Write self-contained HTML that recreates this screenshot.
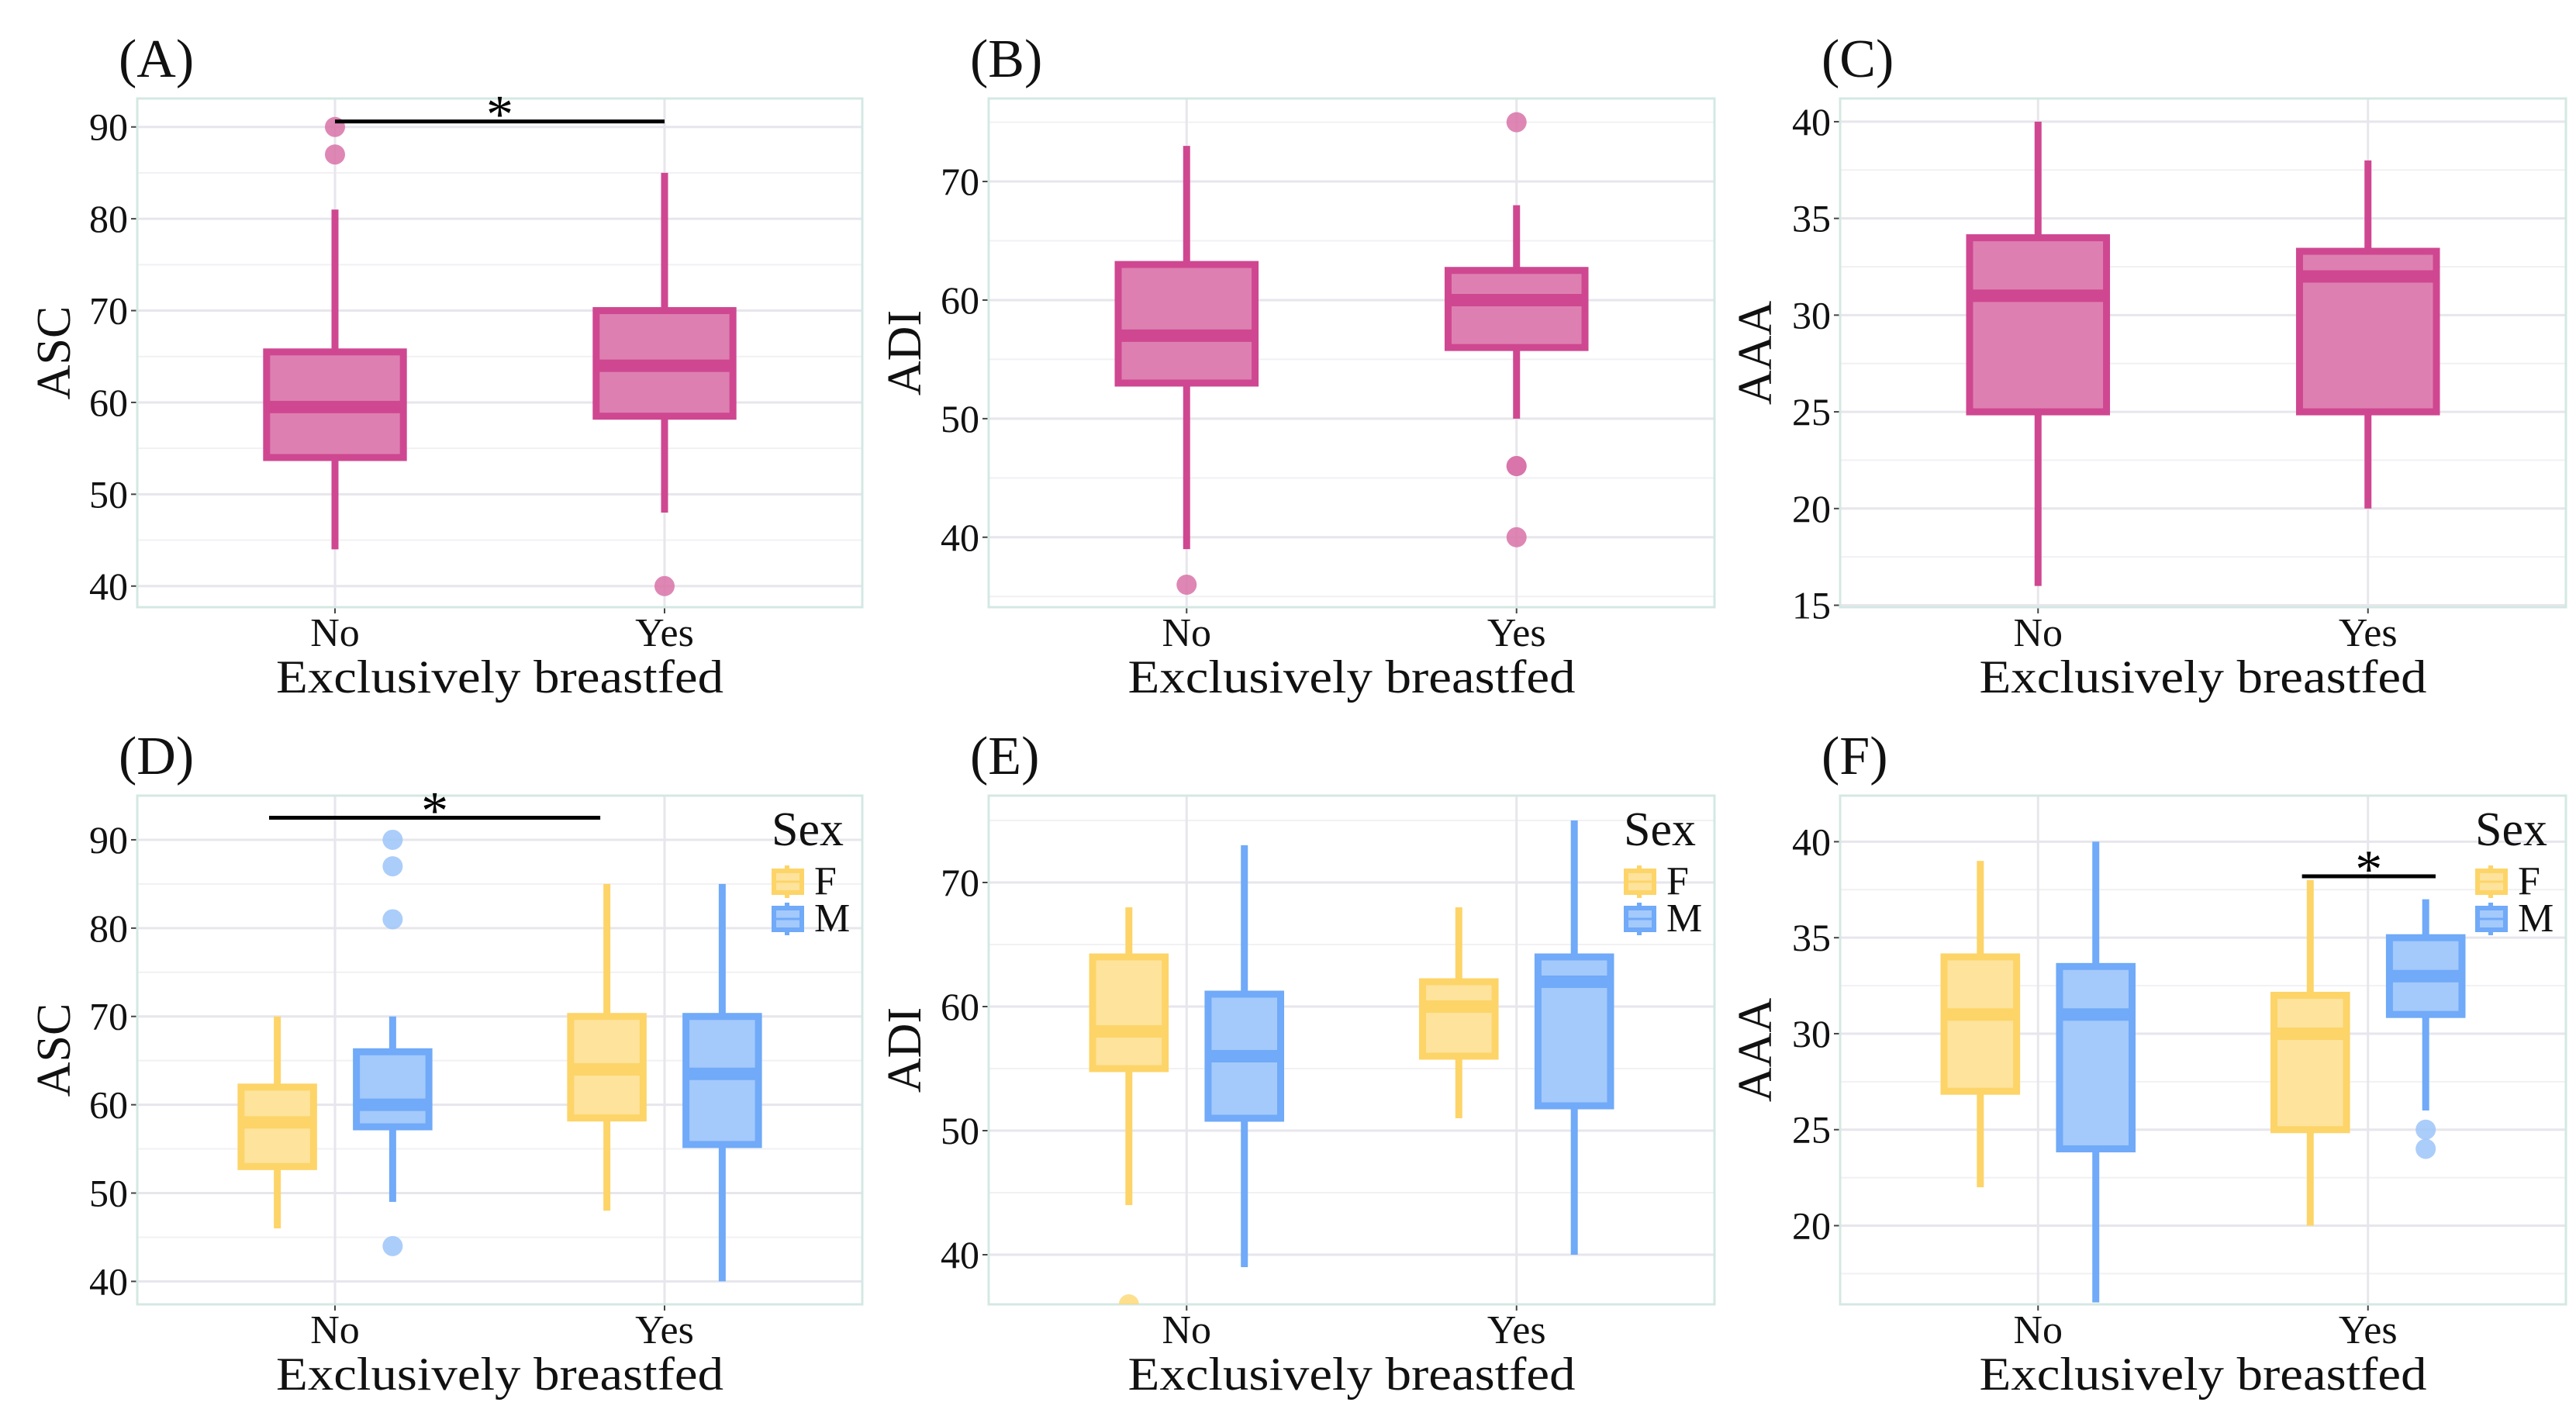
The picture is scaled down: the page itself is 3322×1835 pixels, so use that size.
<!DOCTYPE html>
<html><head><meta charset="utf-8"><style>
html,body{margin:0;padding:0;background:#fff;}
svg, svg text{font-family:"Liberation Serif","Times New Roman",Times,serif;}
svg{display:block;}
</style></head><body>
<svg id="fig" width="3322" height="1835" viewBox="0 0 3322 1835" font-family="Liberation Serif, Times New Roman, serif"></svg>
<script>
// ---- data ----
const categories = ["No","Yes"];
const groups = ["F","M"];
// Panel A (ASC) : [lowWhisker, q1, median, q3, highWhisker]
const ascAll = [[44,54,59.5,65.5,81],[48,58.5,64,70,85]];
const ascAllOut = [[87,90],[40]];
// Panel B (ADI)
const adiAll = [[39,53,57,63,73],[50,56,60,62.5,68]];
const adiAllOut = [[36],[75,46,46,40]];
// Panel C (AAA)
const aaaAll = [[16,25,31,34,40],[20,25,32,33.3,38]];
const aaaAllOut = [[],[]];
// Panel D (ASC by sex) [category][group]
const ascSex = [[[46,53,58,62,70],[49,57.5,60,66,70]],[[48,58.5,64,70,85],[40,55.5,63.5,70,85]]];
const ascSexOut = [[[],[90,87,81,44]],[[],[]]];
// Panel E (ADI by sex)
const adiSex = [[[44,55,58,64,68],[39,51,56,61,73]],[[51,56,60,62,68],[40,52,62,64,75]]];
const adiSexOut = [[[36],[]],[[],[]]];
// Panel F (AAA by sex)
const aaaSex = [[[22,27,31,34,39],[16,24,31,33.5,40]],[[20,25,30,32,38],[26,31,33,35,37]]];
const aaaSexOut = [[[],[]],[[],[25,24]]];
// ticks
const ticksASC = [40,50,60,70,80,90];
const ticksADI = [40,50,60,70];
const ticksAAA = [15,20,25,30,35,40];

const NS = "http://www.w3.org/2000/svg";
const svg = document.getElementById("fig");
const FF = "Liberation Serif, Times New Roman, serif";
function mk(tag, attrs, parent, text){
  const e = document.createElementNS(NS, tag);
  for (const k in attrs) e.setAttribute(k, attrs[k]);
  if (tag === "text") e.setAttribute("font-family", FF);
  if (text !== undefined) e.textContent = text;
  (parent || svg).appendChild(e);
  return e;
}
const COLS = {
  pink:{stroke:"#cf4791", fill:"#dd80b1", out:"#d872a8"},
  F:{stroke:"#fdd468", fill:"#fde39c", out:"#fdd97a"},
  M:{stroke:"#70aaf8", fill:"#a4c9fb", out:"#9cc4f9"}
};

function panel(cfg){
  const g = mk("g", {});
  
  
  const L=cfg.x0, R=cfg.x1, T=cfg.y0, B=cfg.y1, W=R-L;
  const ymin=cfg.ymin, ymax=cfg.ymax;
  const sy = v => B - (v - ymin)/(ymax - ymin)*(B - T);
  const sx = i => L + W*(0.6 + i)/2.2;
  const sp = W/2.2;
  const cid = "clip"+cfg.label;
  const cp = mk("clipPath", {id:cid}, g);
  mk("rect", {x:L, y:T, width:W, height:B-T}, cp);
  const step = cfg.ticks[1]-cfg.ticks[0];
  for (let v = cfg.ticks[0]-step/2; v <= ymax; v += step){
    if (v < ymin) continue;
    const ln = mk("line", {x1:L, x2:R, y1:sy(v), y2:sy(v), stroke:"#f1f1f4", "stroke-width":2}, g);
    
    
  }
  cfg.ticks.forEach(v=>{
    if (v < ymin - 0.2 || v > ymax) return;
    const ln = mk("line", {x1:L, x2:R, y1:sy(v), y2:sy(v), stroke:"#e6e6ec", "stroke-width":3}, g);
    
    
    const tk = mk("line", {x1:L-8, x2:L, y1:sy(v), y2:sy(v), stroke:"#444", "stroke-width":2}, g);
    
    
    const t = mk("text", {x:L-12, y:sy(v)+17, "font-size":50, "text-anchor":"end", fill:"#111"}, g, String(v));
    
    
  });
  categories.forEach((c,i)=>{
    const ln = mk("line", {x1:sx(i), x2:sx(i), y1:T, y2:B, stroke:"#e6e6ec", "stroke-width":3}, g);
    
    
    const tk = mk("line", {x1:sx(i), x2:sx(i), y1:B, y2:B+8, stroke:"#444", "stroke-width":2}, g);
    
    
    const t = mk("text", {x:sx(i), y:B+50, "font-size":52, "text-anchor":"middle", fill:"#111"}, g, c);
    
    
  });
  const fr = mk("rect", {x:L, y:T, width:W, height:B-T, fill:"none", stroke:"#d4e8e3", "stroke-width":3}, g);
  
  

  const marks = mk("g", {"clip-path":"url(#"+cid+")"}, g);
  function drawBox(cx, bw, st, outs, col, nm){
    const bg = mk("g", {}, marks);
    
    
    const wl = mk("line", {x1:cx, x2:cx, y1:sy(st[0]), y2:sy(st[4]), stroke:col.stroke, "stroke-width":9}, bg);
    
    
    const r = mk("rect", {x:cx-bw/2, y:sy(st[3]), width:bw, height:sy(st[1])-sy(st[3]), fill:col.fill, stroke:col.stroke, "stroke-width":9}, bg);
    
    
    const md = mk("line", {x1:cx-bw/2, x2:cx+bw/2, y1:sy(st[2]), y2:sy(st[2]), stroke:col.stroke, "stroke-width":16}, bg);
    
    
    outs.forEach(o=>{
      const c = mk("circle", {cx:cx, cy:sy(o), r:13, fill:col.out, "fill-opacity":0.85}, bg);
      
      
    });
  }
  if (cfg.grouped){
    categories.forEach((c,i)=>{
      groups.forEach((gr,j)=>{
        const cx = sx(i) + (j===0?-1:1)*0.175*sp;
        drawBox(cx, 0.22*sp, cfg.stats[i][j], cfg.outs[i][j], COLS[gr], "box-"+c.toLowerCase()+"-"+gr.toLowerCase());
      });
    });
  } else {
    categories.forEach((c,i)=>{
      drawBox(sx(i), 0.415*sp, cfg.stats[i], cfg.outs[i], COLS.pink, "box-"+c.toLowerCase());
    });
  }
  if (cfg.sig){
    const s = cfg.sig;
    const x1 = s.a(sx,sp), x2 = s.b(sx,sp);
    const sl = mk("line", {x1:x1, x2:x2, y1:sy(s.y), y2:sy(s.y), stroke:"#000", "stroke-width":5}, g);
    
    
    const st = mk("text", {x:(x1+x2)/2, y:sy(s.y)+14, "font-size":70, "text-anchor":"middle", fill:"#000"}, g, "*");
    
    
  }
  const pl = mk("text", {x:L-24, y:T-28, "font-size":70, fill:"#111"}, g, "("+cfg.label+")");
  
  
  const xt = mk("text", {x:(L+R)/2, y:B+110, "font-size":60, "text-anchor":"middle", fill:"#111", textLength:577, lengthAdjust:"spacingAndGlyphs"}, g, "Exclusively breastfed");
  
  
  const yc = (T+B)/2;
  const yt = mk("text", {x:cfg.ytx, y:yc, "font-size":62, "text-anchor":"middle", fill:"#111", transform:"rotate(-90 "+cfg.ytx+" "+yc+")"}, g, cfg.ytitle);
  
  
  if (cfg.grouped){
    const lg = mk("g", {}, g);
    
    
    const lx = R-117;
    const lt = mk("text", {x:lx, y:T+64, "font-size":62, fill:"#111"}, lg, "Sex");
    
    
    groups.forEach((gr,j)=>{
      const ky = T+94+j*48;
      const e = mk("g", {}, lg);
      
      
      mk("line", {x1:lx+20, x2:lx+20, y1:ky-4, y2:ky+38, stroke:COLS[gr].stroke, "stroke-width":6}, e);
      mk("rect", {x:lx+3, y:ky+3, width:36, height:28, fill:COLS[gr].fill, stroke:COLS[gr].stroke, "stroke-width":6}, e);
      mk("line", {x1:lx+3, x2:lx+39, y1:ky+17, y2:ky+17, stroke:COLS[gr].stroke, "stroke-width":3}, e);
      mk("text", {x:lx+55, y:ky+33, "font-size":52, fill:"#111"}, e, gr);
    });
  }
}

const C1=[177,1112], C2=[1275,2211], C3=[2373,3309];
const R1=[127,783], R2=[1026,1682];
panel({name:"panel-a", label:"A", x0:C1[0], x1:C1[1], y0:R1[0], y1:R1[1], ymin:37.7, ymax:93.1, ticks:ticksASC, stats:ascAll, outs:ascAllOut, ytitle:"ASC", ytx:90,
  sig:{y:90.6, a:(sx)=>sx(0), b:(sx)=>sx(1)}});
panel({name:"panel-b", label:"B", x0:C2[0], x1:C2[1], y0:R1[0], y1:R1[1], ymin:34.1, ymax:77.0, ticks:ticksADI, stats:adiAll, outs:adiAllOut, ytitle:"ADI", ytx:1187});
panel({name:"panel-c", label:"C", x0:C3[0], x1:C3[1], y0:R1[0], y1:R1[1], ymin:14.9, ymax:41.2, ticks:ticksAAA, stats:aaaAll, outs:aaaAllOut, ytitle:"AAA", ytx:2284});
panel({name:"panel-d", label:"D", x0:C1[0], x1:C1[1], y0:R2[0], y1:R2[1], ymin:37.4, ymax:95.0, ticks:ticksASC, stats:ascSex, outs:ascSexOut, ytitle:"ASC", ytx:90, grouped:true,
  sig:{y:92.5, a:(sx,sp)=>sx(0)-0.2*sp, b:(sx,sp)=>sx(1)-0.195*sp}});
panel({name:"panel-e", label:"E", x0:C2[0], x1:C2[1], y0:R2[0], y1:R2[1], ymin:36.0, ymax:77.0, ticks:ticksADI, stats:adiSex, outs:adiSexOut, ytitle:"ADI", ytx:1187, grouped:true});
panel({name:"panel-f", label:"F", x0:C3[0], x1:C3[1], y0:R2[0], y1:R2[1], ymin:15.9, ymax:42.4, ticks:ticksAAA, stats:aaaSex, outs:aaaSexOut, ytitle:"AAA", ytx:2284, grouped:true,
  sig:{y:38.2, a:(sx,sp)=>sx(1)-0.2*sp, b:(sx,sp)=>sx(1)+0.205*sp}});
</script>
</body></html>
